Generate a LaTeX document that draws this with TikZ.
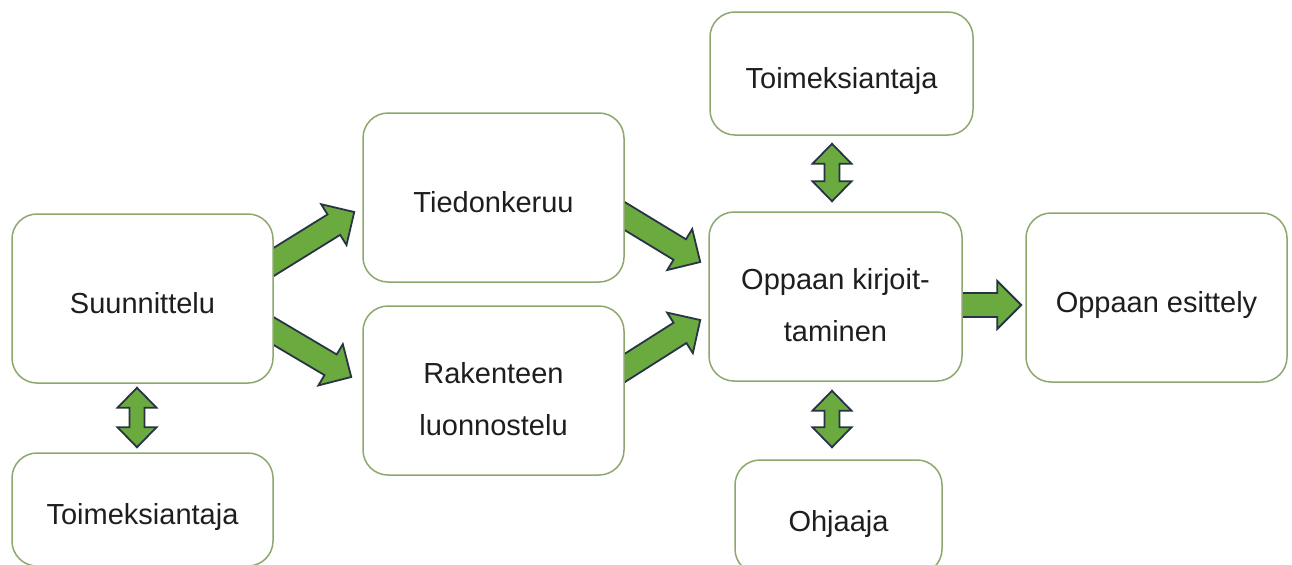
\documentclass[tikz,border=0pt]{standalone}
\usepackage{fontspec}
\setmainfont{Liberation Sans}
\usetikzlibrary{calc,backgrounds}
\definecolor{boxline}{RGB}{140,168,110}
\definecolor{arrfill}{RGB}{106,170,62}
\definecolor{arrline}{RGB}{40,52,70}
\definecolor{txt}{RGB}{30,30,30}
\newcommand{\blockarr}[2]{%
  \coordinate (bn) at ($(#2)!12pt!(#1)$);
  \draw[barrow] ($(#1)!6pt!90:(#2)$) -- ($(bn)!6pt!90:(#2)$) -- ($(bn)!12pt!90:(#2)$) -- (#2)
    -- ($(bn)!12pt!-90:(#2)$) -- ($(bn)!6pt!-90:(#2)$) -- ($(#1)!6pt!-90:(#2)$) -- cycle;}
\newcommand{\dblarr}[2]{%
  \coordinate (dn1) at ($(#1)!10pt!(#2)$);
  \coordinate (dn2) at ($(#2)!10pt!(#1)$);
  \draw[barrow] (#1) -- ($(dn1)!9.75pt!90:(#2)$) -- ($(dn1)!3.75pt!90:(#2)$)
    -- ($(dn2)!3.75pt!-90:(#1)$) -- ($(dn2)!9.75pt!-90:(#1)$) -- (#2)
    -- ($(dn2)!9.75pt!90:(#1)$) -- ($(dn2)!3.75pt!90:(#1)$)
    -- ($(dn1)!3.75pt!-90:(#2)$) -- ($(dn1)!9.75pt!-90:(#2)$) -- cycle;}
\newcommand{\ftop}{\rule{0pt}{19pt}}
\tikzset{
  box/.style={draw=boxline, line width=0.75pt, rounded corners=12.5pt, fill=white,
    align=center, text=txt, inner sep=0pt,
    font=\fontsize{14.5pt}{26pt}\selectfont},
  onebox/.style={box, text height=14.9pt, text depth=0pt},
  barrow/.style={fill=arrfill, draw=arrline, line width=0.9pt, line join=miter}
}
\begin{document}
\begin{tikzpicture}[x=0.5pt,y=-0.5pt]
\useasboundingbox (0,0) rectangle (1292,564);
\begin{scope}
\clip (0,0) rectangle (1292,564);
% boxes
\node[onebox, minimum width=130.5pt, minimum height=84.5pt] (suun) at (142.5,298.5) {Suunnittelu};
\node[onebox, minimum width=130.5pt, minimum height=56.5pt] (toim1) at (142.5,509.5) {Toimeksiantaja};
\node[onebox, minimum width=130.5pt, minimum height=84.5pt] (tied) at (493.5,197.5) {Tiedonkeruu};
\node[box, minimum width=130.5pt, minimum height=84.5pt] (rak) at (493.5,390.5) {\ftop Rakenteen\\luonnostelu};
\node[onebox, minimum width=131.5pt, minimum height=61.5pt] (toim2) at (841.5,73.5) {Toimeksiantaja};
\node[box, minimum width=126.5pt, minimum height=84.5pt] (opk) at (835.5,296.5) {\ftop Oppaan kirjoit-\\taminen};
\node[onebox, minimum width=130.5pt, minimum height=84.5pt] (ose) at (1156.5,297.5) {Oppaan esittely};
\node[onebox, minimum width=103.5pt, minimum height=57pt] (ohj) at (838.5,517) {Ohjaaja};
\end{scope}
% arrow end points
\coordinate (a1s) at ($(suun.east)+(-10,-30.4)$);
\coordinate (a1e) at ($(tied.west)+(-8,14.5)$);
\coordinate (a2s) at ($(suun.east)+(-10,26.7)$);
\coordinate (a2e) at ($(rak.west)+(-11,-13.5)$);
\coordinate (a3s) at ($(tied.east)+(-10,12.5)$);
\coordinate (a3e) at ($(opk.west)+(-8,-34.5)$);
\coordinate (a4s) at ($(rak.east)+(-10,-16.2)$);
\coordinate (a4e) at ($(opk.west)+(-8,23.5)$);
\coordinate (a5s) at ($(opk.east)+(-10,8.5)$);
\coordinate (a5e) at ($(ose.west)+(-4,7.5)$);
\coordinate (d1s) at ($(suun.south)+(-5.5,4)$);
\coordinate (d1e) at ($(toim1.north)+(-5.5,-5)$);
\coordinate (d2s) at ($(toim2.south)+(-9.5,8)$);
\coordinate (d2e) at ($(opk.north)+(-3.5,-10)$);
\coordinate (d3s) at ($(opk.south)+(-3.5,9)$);
\coordinate (d3e) at ($(ohj.north)+(-6.5,-12)$);
% white page and arrows (behind the boxes)
\begin{pgfonlayer}{background}
\fill[white] (0,0) rectangle (1292,564);
\blockarr{a1s}{a1e}
\blockarr{a2s}{a2e}
\blockarr{a3s}{a3e}
\blockarr{a4s}{a4e}
\blockarr{a5s}{a5e}
\dblarr{d1s}{d1e}
\dblarr{d2s}{d2e}
\dblarr{d3s}{d3e}
\end{pgfonlayer}
\end{tikzpicture}
\end{document}
